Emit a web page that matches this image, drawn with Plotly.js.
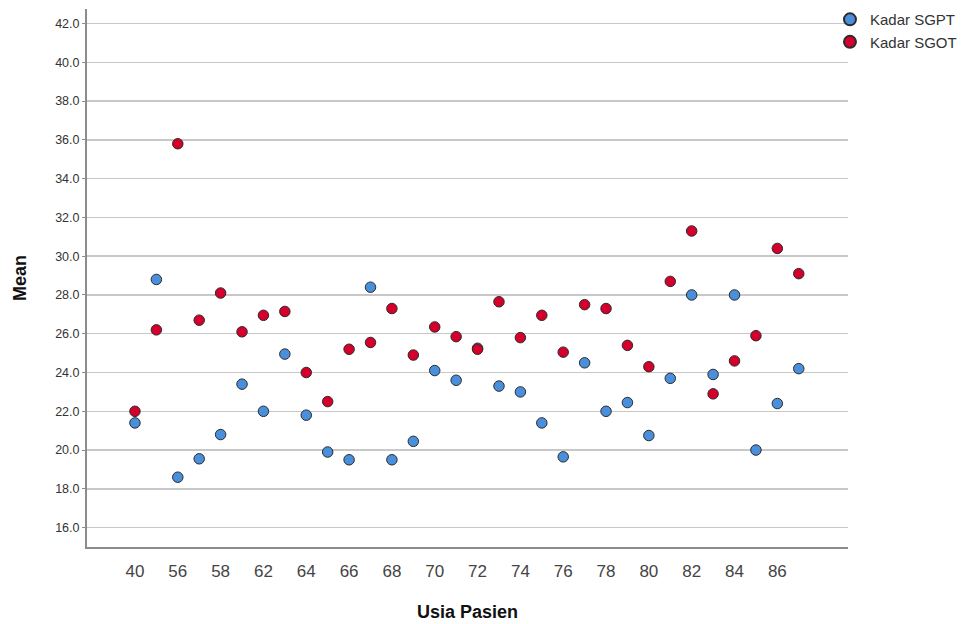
<!DOCTYPE html>
<html><head><meta charset="utf-8">
<script src="https://cdn.plot.ly/plotly-3.0.1.min.js"></script>
<style>html,body{margin:0;padding:0;background:#fff;}#chart{width:973px;height:624px;}</style>
</head><body><div id="chart"></div>
<script>
var ageCategories = ['40','55','56','57','58','60','62','63','64','65','66','67','68','69','70','71','72','73','74','75','76','77','78','79','80','81','82','83','84','85','86','87'];
var sgptMean = [21.4,28.8,18.6,19.55,20.8,23.4,22.0,24.95,21.8,19.9,19.5,28.4,19.5,20.45,24.1,23.6,25.25,23.3,23.0,21.4,19.65,24.5,22.0,22.45,20.75,23.7,28.0,23.9,28.0,20.0,22.4,24.2];
var sgotMean = [22.0,26.2,35.8,26.7,28.1,26.1,26.95,27.15,24.0,22.5,25.2,25.55,27.3,24.9,26.35,25.85,25.2,27.65,25.8,26.95,25.05,27.5,27.3,25.4,24.3,28.7,31.3,22.9,24.6,25.9,30.4,29.1];
var xTickLabels = ['40','56','58','62','64','66','68','70','72','74','76','78','80','82','84','86'];
var yTickValues = [16,18,20,22,24,26,28,30,32,34,36,38,40,42];

var traces = [
  {x: ageCategories, y: sgptMean, name: 'Kadar SGPT', type: 'scatter', mode: 'markers',
   marker: {color: '#4a8fdb', size: 10.5, line: {color: '#2b2b2b', width: 1}}},
  {x: ageCategories, y: sgotMean, name: 'Kadar SGOT', type: 'scatter', mode: 'markers',
   marker: {color: '#d4002b', size: 10.5, line: {color: '#2b2b2b', width: 1}}}
];

var layout = {
  width: 973, height: 624,
  margin: {l: 87, r: 125, t: 9, b: 77, autoexpand: false},
  paper_bgcolor: '#ffffff', plot_bgcolor: '#ffffff',
  font: {family: '"Liberation Sans", Arial, sans-serif', color: '#333'},
  showlegend: true,
  legend: {xref: 'container', yref: 'container', x: 0.853, xanchor: 'left', y: 0.995, yanchor: 'top',
           itemwidth: 30, itemsizing: 'constant',
           font: {size: 15, color: '#333'}, bgcolor: 'rgba(0,0,0,0)', tracegroupgap: 0},
  xaxis: {
    type: 'category', categoryorder: 'array', categoryarray: ageCategories,
    range: [-2.24, 33.3],
    tickmode: 'array', tickvals: xTickLabels, ticktext: xTickLabels,
    tickfont: {size: 17, color: '#444'},
    showgrid: false, zeroline: false,
    showline: true, linecolor: '#8c8c8c', linewidth: 2,
    ticks: 'outside', ticklen: 8, tickcolor: 'rgba(0,0,0,0)',
    title: {text: 'Usia Pasien', font: {size: 18, color: '#111', weight: 'bold'}, standoff: 25}
  },
  yaxis: {
    range: [15.0, 42.75],
    tickmode: 'array', tickvals: yTickValues,
    tickformat: '.1f',
    tickfont: {size: 12.5, color: '#333'},
    showgrid: true, gridcolor: '#c8c8c8', gridwidth: 1.5,
    zeroline: false,
    showline: true, linecolor: '#8c8c8c', linewidth: 2,
    ticks: 'outside', ticklen: 3, tickcolor: '#8c8c8c',
    title: {text: 'Mean', font: {size: 18, color: '#111', weight: 'bold'}, standoff: 24}
  }
};

Plotly.newPlot('chart', traces, layout, {displayModeBar: false, staticPlot: true});
</script>
</body></html>
